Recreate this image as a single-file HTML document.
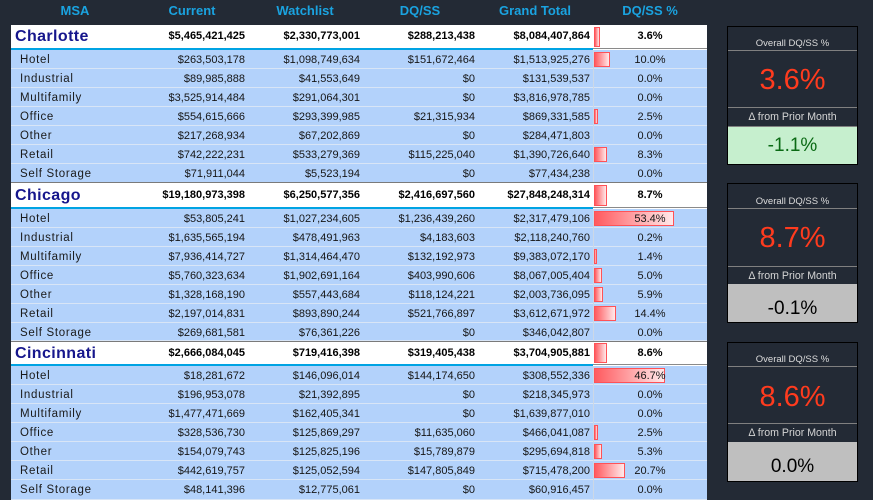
<!DOCTYPE html>
<html><head><meta charset="utf-8">
<style>
*{margin:0;padding:0;box-sizing:border-box}
html,body{width:873px;height:500px;overflow:hidden;background:#232a35;font-family:"Liberation Sans",sans-serif}
.h{position:absolute;top:0;height:21px;line-height:21px;color:#1aa3e0;font-weight:bold;font-size:13px;text-align:center;white-space:nowrap}
.r{position:absolute;left:11px;width:696px;height:19px;background:#b3d2fb;border-bottom:1px solid #d8e5f6;font-size:11px;color:#151515;white-space:nowrap}
.r span{position:absolute;top:0;line-height:20px}
.s span{position:absolute;top:0}
.s{position:absolute;left:11px;width:696px;background:#fff;font-size:11px;font-weight:bold;color:#000;white-space:nowrap}
.s span{line-height:inherit}
.lb{left:9px;font-size:11.5px;letter-spacing:0.7px;color:#1a1a1a}
.c1{left:89px;width:145px;text-align:right}
.c2{left:234px;width:115px;text-align:right}
.c3{left:349px;width:115px;text-align:right}
.c4{left:464px;width:115px;text-align:right}
.pc{left:599px;width:80px;text-align:center}
.vl{position:absolute;left:582px;top:0;bottom:-1px;width:1px;background:#cdd8e6}
.bar{position:absolute;left:583px;top:2px;height:15px;border:1px solid #ff5257;background:linear-gradient(to right,#ff5a5f,#ffe9ea)}
.nm{left:4px;font-size:16px;letter-spacing:0.4px;color:#16168c}
.bl{position:absolute;left:0;width:582px;bottom:0;height:2px;background:#00a3e3}
.gl{position:absolute;left:582px;width:114px;bottom:1px;height:1px;background:#8a8a8a}
.tl{position:absolute;left:0;top:0;width:696px;height:1px;background:#7a7a7a}
.p{position:absolute;left:727px;width:131px;height:139px;border:1px solid #000;background:#232a35;color:#dcdcdc;text-align:center}
.p .t1{position:absolute;left:0;width:129px;font-size:9.5px;line-height:12px}
.p .ln{position:absolute;left:0;width:129px;height:1px;background:#808080}
.p .big{position:absolute;left:0;width:129px;font-size:29px;line-height:34px;color:#ff3b1e}
.p .t2{position:absolute;left:0;width:129px;font-size:10.6px;line-height:13px;color:#d4d4d4}
.p .vb{position:absolute;left:0;width:129px;top:99px;bottom:0;font-size:19px}
</style></head><body>
<div class="h" style="left:50px;width:50px">MSA</div>
<div class="h" style="left:152px;width:80px">Current</div>
<div class="h" style="left:265px;width:80px">Watchlist</div>
<div class="h" style="left:380px;width:80px">DQ/SS</div>
<div class="h" style="left:485px;width:100px">Grand Total</div>
<div class="h" style="left:610px;width:80px">DQ/SS %</div>

<!-- Charlotte -->
<div class="s" style="top:25px;height:25px;line-height:23px">
<span class="nm">Charlotte</span><span class="c1">$5,465,421,425</span><span class="c2">$2,330,773,001</span><span class="c3">$288,213,438</span><span class="c4">$8,084,407,864</span>
<div class="bar" style="width:6px;top:2px;height:20px"></div><span class="pc">3.6%</span><div class="bl"></div><div class="gl"></div></div>
<div class="r" style="top:50px"><span class="lb">Hotel</span><span class="c1">$263,503,178</span><span class="c2">$1,098,749,634</span><span class="c3">$151,672,464</span><span class="c4">$1,513,925,276</span><div class="vl"></div><div class="bar" style="width:16px"></div><span class="pc">10.0%</span></div>
<div class="r" style="top:69px"><span class="lb">Industrial</span><span class="c1">$89,985,888</span><span class="c2">$41,553,649</span><span class="c3">$0</span><span class="c4">$131,539,537</span><div class="vl"></div><span class="pc">0.0%</span></div>
<div class="r" style="top:88px"><span class="lb">Multifamily</span><span class="c1">$3,525,914,484</span><span class="c2">$291,064,301</span><span class="c3">$0</span><span class="c4">$3,816,978,785</span><div class="vl"></div><span class="pc">0.0%</span></div>
<div class="r" style="top:107px"><span class="lb">Office</span><span class="c1">$554,615,666</span><span class="c2">$293,399,985</span><span class="c3">$21,315,934</span><span class="c4">$869,331,585</span><div class="vl"></div><div class="bar" style="width:4px"></div><span class="pc">2.5%</span></div>
<div class="r" style="top:126px"><span class="lb">Other</span><span class="c1">$217,268,934</span><span class="c2">$67,202,869</span><span class="c3">$0</span><span class="c4">$284,471,803</span><div class="vl"></div><span class="pc">0.0%</span></div>
<div class="r" style="top:145px"><span class="lb">Retail</span><span class="c1">$742,222,231</span><span class="c2">$533,279,369</span><span class="c3">$115,225,040</span><span class="c4">$1,390,726,640</span><div class="vl"></div><div class="bar" style="width:13px"></div><span class="pc">8.3%</span></div>
<div class="r" style="top:164px"><span class="lb">Self Storage</span><span class="c1">$71,911,044</span><span class="c2">$5,523,194</span><span class="c3">$0</span><span class="c4">$77,434,238</span><div class="vl"></div><span class="pc">0.0%</span></div>

<!-- Chicago -->
<div class="s" style="top:182px;height:27px;line-height:27px">
<div class="tl"></div>
<span class="nm">Chicago</span><span class="c1">$19,180,973,398</span><span class="c2">$6,250,577,356</span><span class="c3">$2,416,697,560</span><span class="c4">$27,848,248,314</span>
<div class="bar" style="width:13px;top:3px;height:21px"></div><span class="pc">8.7%</span><div class="bl"></div><div class="gl"></div></div>
<div class="r" style="top:209px"><span class="lb">Hotel</span><span class="c1">$53,805,241</span><span class="c2">$1,027,234,605</span><span class="c3">$1,236,439,260</span><span class="c4">$2,317,479,106</span><div class="vl"></div><div class="bar" style="width:80px"></div><span class="pc">53.4%</span></div>
<div class="r" style="top:228px"><span class="lb">Industrial</span><span class="c1">$1,635,565,194</span><span class="c2">$478,491,963</span><span class="c3">$4,183,603</span><span class="c4">$2,118,240,760</span><div class="vl"></div><span class="pc">0.2%</span></div>
<div class="r" style="top:247px"><span class="lb">Multifamily</span><span class="c1">$7,936,414,727</span><span class="c2">$1,314,464,470</span><span class="c3">$132,192,973</span><span class="c4">$9,383,072,170</span><div class="vl"></div><div class="bar" style="width:3px"></div><span class="pc">1.4%</span></div>
<div class="r" style="top:266px"><span class="lb">Office</span><span class="c1">$5,760,323,634</span><span class="c2">$1,902,691,164</span><span class="c3">$403,990,606</span><span class="c4">$8,067,005,404</span><div class="vl"></div><div class="bar" style="width:8px"></div><span class="pc">5.0%</span></div>
<div class="r" style="top:285px"><span class="lb">Other</span><span class="c1">$1,328,168,190</span><span class="c2">$557,443,684</span><span class="c3">$118,124,221</span><span class="c4">$2,003,736,095</span><div class="vl"></div><div class="bar" style="width:9px"></div><span class="pc">5.9%</span></div>
<div class="r" style="top:304px"><span class="lb">Retail</span><span class="c1">$2,197,014,831</span><span class="c2">$893,890,244</span><span class="c3">$521,766,897</span><span class="c4">$3,612,671,972</span><div class="vl"></div><div class="bar" style="width:22px"></div><span class="pc">14.4%</span></div>
<div class="r" style="top:323px;height:18px"><span class="lb">Self Storage</span><span class="c1">$269,681,581</span><span class="c2">$76,361,226</span><span class="c3">$0</span><span class="c4">$346,042,807</span><div class="vl"></div><span class="pc">0.0%</span></div>

<!-- Cincinnati -->
<div class="s" style="top:341px;height:25px;line-height:25px">
<div class="tl"></div>
<span class="nm">Cincinnati</span><span class="c1">$2,666,084,045</span><span class="c2">$719,416,398</span><span class="c3">$319,405,438</span><span class="c4">$3,704,905,881</span>
<div class="bar" style="width:13px;top:2px;height:20px"></div><span class="pc">8.6%</span><div class="bl"></div><div class="gl"></div></div>
<div class="r" style="top:366px"><span class="lb">Hotel</span><span class="c1">$18,281,672</span><span class="c2">$146,096,014</span><span class="c3">$144,174,650</span><span class="c4">$308,552,336</span><div class="vl"></div><div class="bar" style="width:71px"></div><span class="pc">46.7%</span></div>
<div class="r" style="top:385px"><span class="lb">Industrial</span><span class="c1">$196,953,078</span><span class="c2">$21,392,895</span><span class="c3">$0</span><span class="c4">$218,345,973</span><div class="vl"></div><span class="pc">0.0%</span></div>
<div class="r" style="top:404px"><span class="lb">Multifamily</span><span class="c1">$1,477,471,669</span><span class="c2">$162,405,341</span><span class="c3">$0</span><span class="c4">$1,639,877,010</span><div class="vl"></div><span class="pc">0.0%</span></div>
<div class="r" style="top:423px"><span class="lb">Office</span><span class="c1">$328,536,730</span><span class="c2">$125,869,297</span><span class="c3">$11,635,060</span><span class="c4">$466,041,087</span><div class="vl"></div><div class="bar" style="width:4px"></div><span class="pc">2.5%</span></div>
<div class="r" style="top:442px"><span class="lb">Other</span><span class="c1">$154,079,743</span><span class="c2">$125,825,196</span><span class="c3">$15,789,879</span><span class="c4">$295,694,818</span><div class="vl"></div><div class="bar" style="width:8px"></div><span class="pc">5.3%</span></div>
<div class="r" style="top:461px"><span class="lb">Retail</span><span class="c1">$442,619,757</span><span class="c2">$125,052,594</span><span class="c3">$147,805,849</span><span class="c4">$715,478,200</span><div class="vl"></div><div class="bar" style="width:31px"></div><span class="pc">20.7%</span></div>
<div class="r" style="top:480px;height:20px"><span class="lb">Self Storage</span><span class="c1">$48,141,396</span><span class="c2">$12,775,061</span><span class="c3">$0</span><span class="c4">$60,916,457</span><div class="vl"></div><span class="pc">0.0%</span></div>

<!-- Panels -->
<div class="p" style="top:26px;height:139px">
<div class="t1" style="top:11px">Overall DQ/SS %</div>
<div class="ln" style="top:23px"></div>
<div class="big" style="top:36px">3.6%</div>
<div class="ln" style="top:80px"></div>
<div class="t2" style="top:84px">Δ from Prior Month</div>
<div class="ln" style="top:99px"></div>
<div class="vb" style="top:100px;background:#c6efce;color:#0a6a14;line-height:37px">-1.1%</div>
</div>
<div class="p" style="top:183px;height:140px">
<div class="t1" style="top:12px">Overall DQ/SS %</div>
<div class="ln" style="top:24px"></div>
<div class="big" style="top:37px">8.7%</div>
<div class="ln" style="top:82px"></div>
<div class="t2" style="top:86px">Δ from Prior Month</div>
<div class="vb" style="top:100px;background:#bfbfbf;color:#000;line-height:50px">-0.1%</div>
</div>
<div class="p" style="top:342px;height:140px">
<div class="t1" style="top:11px">Overall DQ/SS %</div>
<div class="ln" style="top:23px"></div>
<div class="big" style="top:37px">8.6%</div>
<div class="ln" style="top:80px"></div>
<div class="t2" style="top:84px">Δ from Prior Month</div>
<div class="vb" style="top:99px;background:#bfbfbf;color:#000;line-height:50px">0.0%</div>
</div>
</body></html>
